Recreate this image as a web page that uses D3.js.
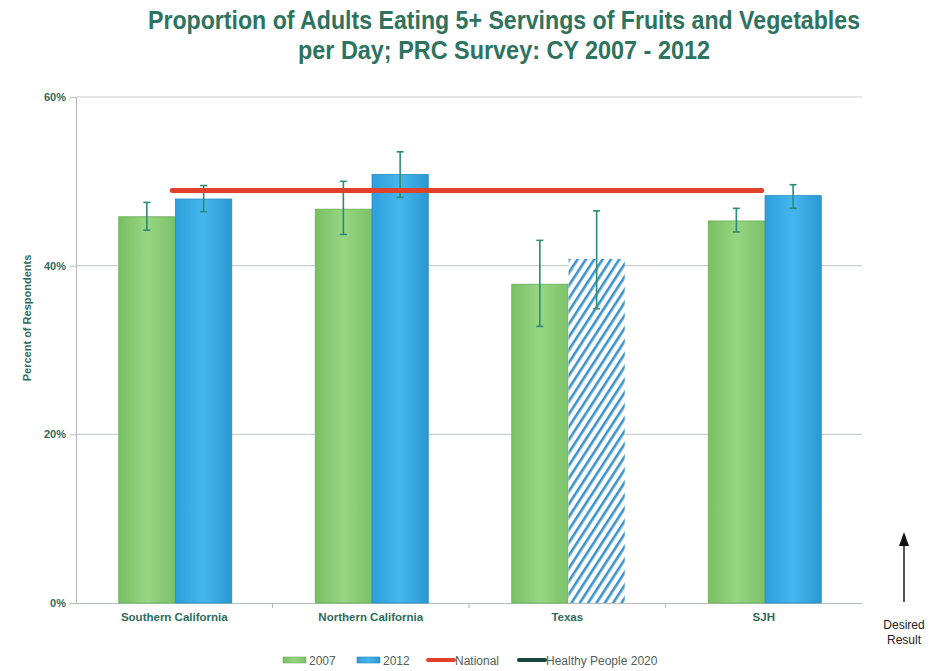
<!DOCTYPE html>
<html><head><meta charset="utf-8">
<script src="https://cdn.jsdelivr.net/npm/d3@7"></script>
<style>body{margin:0;background:#fff}svg{display:block}</style>
</head><body>
<script>
const categories = ["Southern California","Northern California","Texas","SJH"];
const series = ["2007","2012"];
const values2007 = [45.8, 46.7, 37.8, 45.3];
const values2012 = [47.9, 50.8, 40.8, 48.3];
const errLow2007 = [44.2, 43.7, 32.8, 44.0];
const errHigh2007 = [47.5, 50.0, 43.0, 46.8];
const errLow2012 = [46.4, 48.1, 34.9, 46.8];
const errHigh2012 = [49.5, 53.5, 46.5, 49.6];
const hatched2012 = [false, false, true, false];
const nationalValue = 48.9;
const yTicks = [0, 20, 40, 60];
const legendItems = ["2007","2012","National","Healthy People 2020"];
const titleLines = ["Proportion of Adults Eating 5+ Servings of Fruits and Vegetables","per Day; PRC Survey: CY 2007 - 2012"];

const W = 936, H = 671;
const svg = d3.select("body").append("svg").attr("width", W).attr("height", H);
const defs = svg.append("defs");
const gG = defs.append("linearGradient").attr("id","gGreen").attr("x1","0").attr("x2","1").attr("y1","0").attr("y2","0");
gG.append("stop").attr("offset","0").attr("stop-color","#78c064");
gG.append("stop").attr("offset","0.5").attr("stop-color","#98d582");
gG.append("stop").attr("offset","1").attr("stop-color","#7cc268");
const gB = defs.append("linearGradient").attr("id","gBlue").attr("x1","0").attr("x2","1").attr("y1","0").attr("y2","0");
gB.append("stop").attr("offset","0").attr("stop-color","#2c9fdc");
gB.append("stop").attr("offset","0.5").attr("stop-color","#46b6ee");
gB.append("stop").attr("offset","1").attr("stop-color","#2a98d2");
const pat = defs.append("pattern").attr("id","hatch").attr("patternUnits","userSpaceOnUse")
  .attr("width",7).attr("height",7).attr("patternTransform","rotate(33)");
pat.append("rect").attr("width",7).attr("height",7).attr("fill","#fff");
pat.append("rect").attr("width",2.6).attr("height",7).attr("fill","#3b93cc");

const mLeft = 76, mRight = 862, mTop = 97, mBottom = 603;
const x = d3.scaleBand().domain(categories).range([mLeft, mRight]).paddingInner(0).paddingOuter(0);
const bw = x.bandwidth();
const groupW = 113;
const xs = d3.scaleBand().domain(series).range([(bw-groupW)/2 + 1, (bw+groupW)/2 + 1]).paddingInner(0.01);
const y = d3.scaleLinear().domain([0, 60]).range([mBottom, mTop]);

const teal = "#2e6b5c";

// title
svg.append("g").selectAll("text").data(titleLines).join("text")
  .attr("x", 504).attr("y", (d,i)=> 29 + i*30)
  .attr("text-anchor","middle")
  .attr("font-family","'Liberation Sans Narrow','Arial Narrow','Liberation Sans',Arial,sans-serif")
  .attr("font-weight","bold").attr("font-size", 25).attr("fill", "#2e735f")
  .attr("textLength",(d,i)=> i===0 ? 712 : 412).attr("lengthAdjust","spacingAndGlyphs")
  .text(d=>d);

// gridlines
svg.append("g").selectAll("line").data(yTicks.filter(t=>t>0)).join("line")
  .attr("x1", mLeft).attr("x2", mRight).attr("y1", d=>y(d)).attr("y2", d=>y(d))
  .attr("stroke","#c9cfcb").attr("stroke-width",1.2);

// y axis
const yAxis = d3.axisLeft(y).tickValues(yTicks).tickFormat(d=>d+"%").tickSize(6).tickPadding(4);
const yg = svg.append("g").attr("transform",`translate(${mLeft},0)`).call(yAxis);
yg.select(".domain").attr("stroke","#b8bfbb").attr("stroke-width",1.2);
yg.selectAll(".tick line").attr("stroke","#b8bfbb");
yg.selectAll("text").attr("font-family","'Liberation Sans',Arial,sans-serif").attr("font-weight","bold")
  .attr("font-size",11).attr("fill",teal);

svg.append("text").attr("transform","translate(31,318) rotate(-90)").attr("text-anchor","middle")
  .attr("font-family","'Liberation Sans',Arial,sans-serif").attr("font-weight","bold").attr("font-size",11)
  .attr("fill",teal).text("Percent of Respondents");

// x axis
const xAxis = d3.axisBottom(x).tickSize(0).tickPadding(10);
const xg = svg.append("g").attr("transform",`translate(0,${mBottom})`).call(xAxis);
xg.select(".domain").attr("stroke","#b8bfbb").attr("stroke-width",1.2);
xg.selectAll("text").attr("font-family","'Liberation Sans',Arial,sans-serif").attr("font-weight","bold")
  .attr("font-size",11.5).attr("fill",teal);
svg.append("g").selectAll("line").data(categories.slice(1)).join("line")
  .attr("x1",d=>x(d)).attr("x2",d=>x(d)).attr("y1",mBottom).attr("y2",mBottom+5)
  .attr("stroke","#b8bfbb").attr("stroke-width",1.2);

// bars
const rows = categories.map((c,i)=>({c, i,
  vals:[{s:"2007", v:values2007[i], lo:errLow2007[i], hi:errHigh2007[i], hatch:false},
        {s:"2012", v:values2012[i], lo:errLow2012[i], hi:errHigh2012[i], hatch:hatched2012[i]}]}));
const grp = svg.append("g").selectAll("g").data(rows).join("g").attr("transform",d=>`translate(${x(d.c)},0)`);
grp.selectAll("rect").data(d=>d.vals).join("rect")
  .attr("x",d=>xs(d.s)).attr("width",xs.bandwidth())
  .attr("y",d=>y(d.v)).attr("height",d=>mBottom - y(d.v))
  .attr("fill",d=> d.hatch ? "url(#hatch)" : (d.s==="2007" ? "url(#gGreen)" : "url(#gBlue)"))
  .attr("stroke",d=> d.hatch ? "none" : (d.s==="2007" ? "#6aaf58" : "#2589c0")).attr("stroke-width",0.8);

// national line
svg.append("line")
  .attr("x1", x(categories[0]) + bw/2 - 2).attr("x2", x(categories[categories.length-1]) + bw/2 - 2)
  .attr("y1", y(nationalValue)).attr("y2", y(nationalValue))
  .attr("stroke","#e0412b").attr("stroke-width",5).attr("stroke-linecap","round");

// error bars
const eb = grp.selectAll("g.eb").data(d=>d.vals).join("g").attr("class","eb")
  .attr("transform",d=>`translate(${xs(d.s)+xs.bandwidth()/2},0)`);
eb.append("line").attr("y1",d=>y(d.lo)).attr("y2",d=>y(d.hi)).attr("stroke","#2f8a78").attr("stroke-width",1.6);
eb.append("line").attr("x1",-3.5).attr("x2",3.5).attr("y1",d=>y(d.hi)).attr("y2",d=>y(d.hi)).attr("stroke","#2f8a78").attr("stroke-width",1.6);
eb.append("line").attr("x1",-3.5).attr("x2",3.5).attr("y1",d=>y(d.lo)).attr("y2",d=>y(d.lo)).attr("stroke","#2f8a78").attr("stroke-width",1.6);

// legend
const legX = [283, 357, 428, 519];
const lg = svg.append("g").selectAll("g").data(legendItems).join("g")
  .attr("transform",(d,i)=>`translate(${legX[i]},660)`);
lg.each(function(d,i){
  const g = d3.select(this);
  if (i < 2) {
    g.append("rect").attr("x",0).attr("y",-3).attr("width",23).attr("height",6)
      .attr("fill", i===0 ? "url(#gGreen)" : "url(#gBlue)")
      .attr("stroke", i===0 ? "#6aaf58" : "#2589c0").attr("stroke-width",0.6);
  } else {
    g.append("line").attr("x1",0).attr("x2",26).attr("y1",0).attr("y2",0)
      .attr("stroke", i===2 ? "#e0412b" : "#17473a").attr("stroke-width",4).attr("stroke-linecap","round");
  }
  g.append("text").attr("x", i<2 ? 26 : 27).attr("y",4.5)
    .attr("font-family","'Liberation Sans',Arial,sans-serif").attr("font-size",12)
    .attr("fill","#50605a").text(d);
});

// desired result arrow
svg.append("line").attr("x1",904).attr("x2",904).attr("y1",602).attr("y2",545)
  .attr("stroke","#222").attr("stroke-width",1.5);
svg.append("path").attr("d","M904,532 L899,546 L909,546 Z").attr("fill","#111");
svg.append("g").selectAll("text").data(["Desired","Result"]).join("text")
  .attr("x",904).attr("y",(d,i)=>629+i*15).attr("text-anchor","middle")
  .attr("font-family","'Liberation Sans',Arial,sans-serif").attr("font-size",12).attr("fill","#222").text(d=>d);
</script>
</body></html>
